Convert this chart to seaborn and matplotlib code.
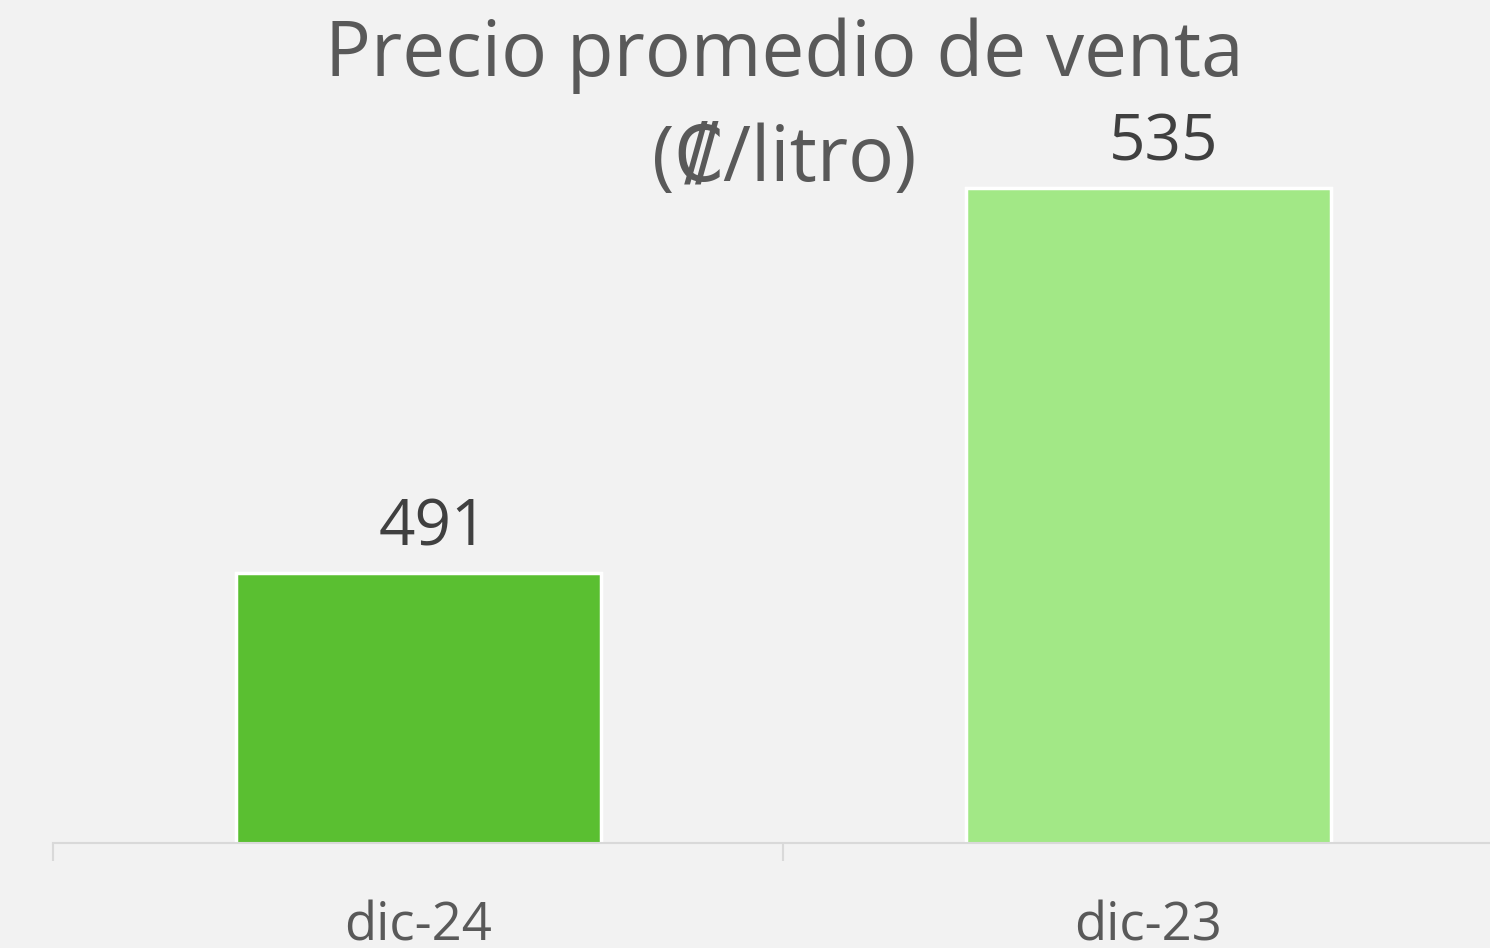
import matplotlib
matplotlib.use('Agg')
import matplotlib.pyplot as plt
import seaborn as sns
import pandas as pd

periodos = ['dic-24', 'dic-23']
precios = [491, 535]
colores = ['#5abf31', '#a2e886']

data = pd.DataFrame({'Periodo': periodos, 'Precio': precios})

sns.set_style('white')
plt.rcParams['font.family'] = ['Open Sans', 'DejaVu Sans']

fig = plt.figure(figsize=(14.9, 9.48), dpi=100)
fig.patch.set_facecolor('#f2f2f2')
ax = fig.add_axes([53 / 1490, 105 / 948, 1460 / 1490, 843 / 948])
ax.set_facecolor('#f2f2f2')

sns.barplot(x='Periodo', y='Precio', data=data, hue='Periodo', palette=colores,
            saturation=1, width=0.5, edgecolor='white', linewidth=2.5,
            legend=False, ax=ax)

ax.set_ylim(460.14, 556.5)
ax.set_xlim(-0.5, 1.5)
for s in ['top', 'right', 'left']:
    ax.spines[s].set_visible(False)
ax.spines['bottom'].set_color('#d9d9d9')
ax.spines['bottom'].set_linewidth(1.5)
ax.set_yticks([])
ax.set_xticks([0, 1])
ax.set_xticklabels(periodos, fontsize=38, color='#595959')
ax.tick_params(axis='x', which='major', bottom=True, length=0, pad=41)
ax.set_xticks([-0.5, 0.5, 1.5], minor=True)
ax.tick_params(axis='x', which='minor', bottom=True, length=13, width=1.5,
               color='#d9d9d9')
ax.set_xlabel('')
ax.set_ylabel('')

for i, v in enumerate(precios):
    ax.annotate(str(v), (i, v), xytext=(11, 9), textcoords='offset points',
                ha='center', va='bottom', fontsize=46, color='#404040')

fig.text(784 / 1490, 1 - 17 / 948, 'Precio promedio de venta\n(₡/litro)',
         ha='center', va='top', fontsize=55, color='#595959', linespacing=1.5)

fig.savefig('out.png', dpi=100, facecolor=fig.get_facecolor())
